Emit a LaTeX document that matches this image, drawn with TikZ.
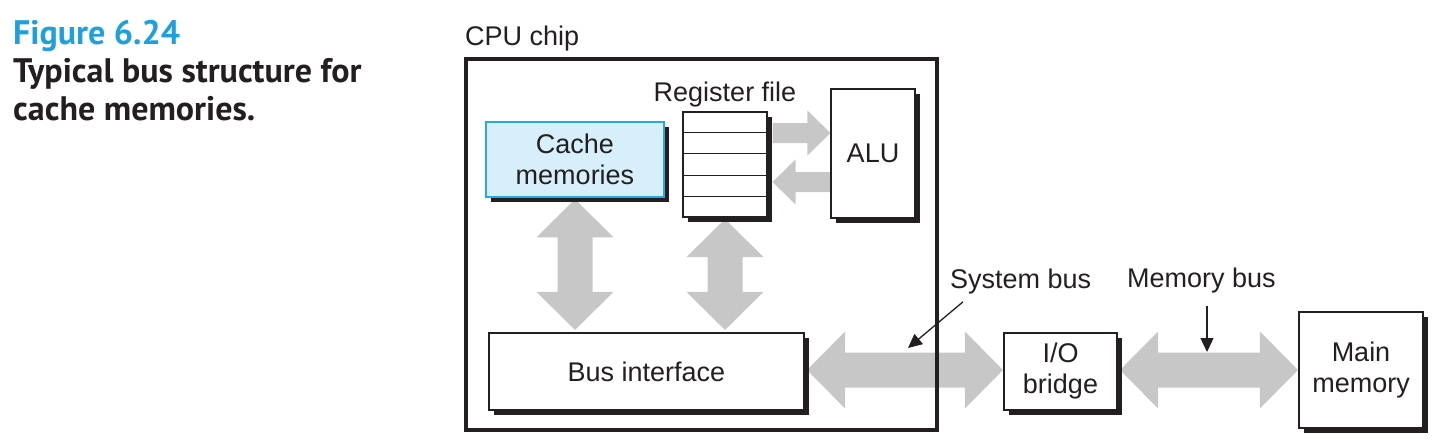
\documentclass[tikz,border=0pt]{standalone}
\usepackage{fontspec}
\setmainfont{Liberation Sans}
\newfontfamily\titlefont{PT Sans}
\usetikzlibrary{calc,shadows,arrows.meta}
\pgfdeclarelayer{background}
\pgfdeclarelayer{foreground}
\pgfsetlayers{background,main,foreground}

\definecolor{figblue}{RGB}{30,160,222}
\definecolor{ink}{RGB}{35,31,32}
\definecolor{busgray}{RGB}{199,199,199}
\definecolor{cachefill}{RGB}{214,239,251}
\definecolor{cacheedge}{RGB}{38,170,225}

% fat two-headed bus arrow from tip #1 to tip #2
\newcommand{\fatarrow}[2]{%
  \fill[busgray] (#1)
    -- ($(#1)!38pt!(#2)!38.5pt!90:(#2)$) -- ($(#1)!38pt!(#2)!17.5pt!90:(#2)$)
    -- ($(#2)!38pt!(#1)!17.5pt!-90:(#1)$) -- ($(#2)!38pt!(#1)!38.5pt!-90:(#1)$)
    -- (#2)
    -- ($(#2)!38pt!(#1)!38.5pt!90:(#1)$) -- ($(#2)!38pt!(#1)!17.5pt!90:(#1)$)
    -- ($(#1)!38pt!(#2)!17.5pt!-90:(#2)$) -- ($(#1)!38pt!(#2)!38.5pt!-90:(#2)$)
    -- cycle;}
% smaller one-headed arrow from tail #1 to tip #2
\newcommand{\onearrow}[2]{%
  \fill[busgray] ($(#1)!10pt!90:(#2)$)
    -- ($(#2)!23pt!(#1)!10pt!-90:(#1)$) -- ($(#2)!23pt!(#1)!22.5pt!-90:(#1)$)
    -- (#2)
    -- ($(#2)!23pt!(#1)!22.5pt!90:(#1)$) -- ($(#2)!23pt!(#1)!10pt!90:(#1)$)
    -- ($(#1)!10pt!-90:(#2)$) -- cycle;}

\tikzset{
  unitbox/.style={draw=ink, fill=white, line width=1.1pt, inner sep=0pt, text=ink,
    align=center, font=\fontsize{27}{31}\selectfont,
    drop shadow={shadow xshift=5pt, shadow yshift=-5pt, fill=ink, opacity=1}},
  buslabel/.style={inner sep=0pt, text=ink, font=\fontsize{27}{31}\selectfont},
  pointer/.style={draw=ink, line width=1.3pt, -{Triangle[length=14pt,width=13pt]}},
}

\begin{document}
\begin{tikzpicture}[x=1pt,y=-1pt]
\useasboundingbox (0,0) rectangle (1441,447);

% caption
\node[anchor=base west, inner sep=0pt, text=figblue, font=\titlefont\bfseries\fontsize{34}{38}\selectfont] (fignum) at (13,44) {Figure 6.24};
\node[anchor=base west, inner sep=0pt, text=ink, align=left, font=\titlefont\bfseries\fontsize{34}{38}\selectfont] (figtitle) at (13,120) {Typical bus structure for\\cache memories.};

% chip and units
\node[draw=ink, line width=4.5pt, minimum width=471pt, minimum height=371pt] (cpu) at (701.5,244.5) {};
\node[buslabel, anchor=base west] (cpulabel) at (465,45) {CPU chip};
\node[unitbox, fill=cachefill, draw=cacheedge, line width=1.5pt, minimum width=178pt, minimum height=75pt] (cache) at (575,159.5) {Cache\\memories};
\node[unitbox, minimum width=84pt, minimum height=105pt] (regfile) at (725,164.5) {};
\foreach \i in {1,...,4}
  \draw[ink, line width=1.1pt] ($(regfile.north west)!\i/5!(regfile.south west)$) -- ($(regfile.north east)!\i/5!(regfile.south east)$);
\node[buslabel, anchor=base] (reglabel) at (725,101) {Register file};
\node[unitbox, minimum width=84pt, minimum height=129pt] (alu) at (873,153.5) {ALU};
\node[unitbox, minimum width=315pt, minimum height=77pt] (bus) at (646.5,371.5) {Bus interface};
\node[unitbox, minimum width=113pt, minimum height=77pt] (iob) at (1060.5,371.5) {I/O\\bridge};
\node[unitbox, minimum width=124pt, minimum height=116pt] (mem) at (1361,370) {Main\\memory};

% gray data paths
\begin{pgfonlayer}{background}
\coordinate (toalu) at ($(regfile.east)+(5,-31.5)$);
\coordinate (atalu) at (toalu -| alu.west);
\coordinate (fromalu) at ($(regfile.east)+(5,17.5)$);
\coordinate (atalu2) at (fromalu -| alu.west);
\onearrow{toalu}{atalu}
\onearrow{atalu2}{fromalu}
\coordinate (cachebot) at ($(cache.south)+(0,1.5)$);
\coordinate (bustop1) at ($(cache.south |- bus.north)+(0,-2.5)$);
\fatarrow{cachebot}{bustop1}
\coordinate (regbot) at ($(regfile.south)+(0,1.5)$);
\coordinate (bustop2) at ($(regfile.south |- bus.north)+(0,-2.5)$);
\fatarrow{regbot}{bustop2}
\coordinate (busright) at ($(bus.east)+(2.5,-1.5)$);
\coordinate (iobleft) at ($(iob.west)+(-0.5,-1.5)$);
\fatarrow{busright}{iobleft}
\coordinate (iobright) at ($(iob.east)+(2.5,-1.5)$);
\coordinate (memleft) at ($(iob.east -| mem.west)+(-0.5,-1.5)$);
\fatarrow{iobright}{memleft}
\end{pgfonlayer}

% bus names
\begin{pgfonlayer}{foreground}
\node[buslabel, anchor=base west] (syslabel) at (950,288) {System bus};
\node[buslabel, anchor=base west] (memlabel) at (1127,287) {Memory bus};
\coordinate (systip) at (908,348);
\coordinate (memtip) at (1207,352);
\draw[pointer] ($(syslabel.south west)+(13,8)$) -- (systip);
\draw[pointer] ($(memtip |- memlabel.south)+(0,13)$) -- (memtip);
\end{pgfonlayer}
\end{tikzpicture}
\end{document}
